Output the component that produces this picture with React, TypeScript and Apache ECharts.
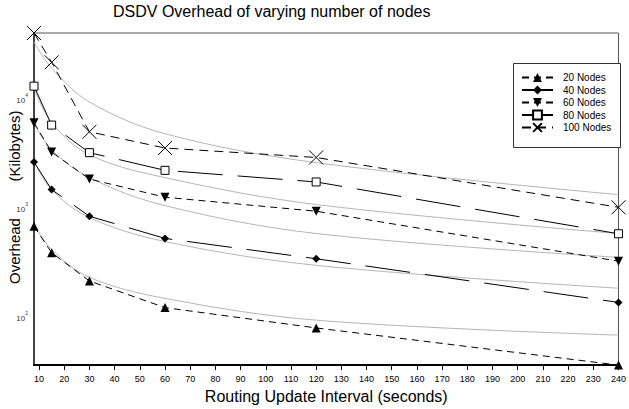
import React, { useEffect, useRef } from "react";
import * as echarts from "echarts";

const xValues = [8, 15, 30, 60, 120, 240];
const xTicks = [10, 20, 30, 40, 50, 60, 70, 80, 90, 100, 110, 120, 130, 140, 150, 160, 170, 180, 190, 200, 210, 220, 230, 240];

const nodes20 = [673, 384, 211, 120, 78, 35.5];
const nodes40 = [2620, 1463, 832, 520, 338, 134];
const nodes60 = [6030, 3240, 1830, 1245, 925, 321];
const nodes80 = [13100, 5740, 3200, 2200, 1720, 574];
const nodes100 = [40400, 21700, 4980, 3530, 2890, 1005];

// gray trend curves
const fit20 = [698, 412, 228, 146, 92, 67];
const fit40 = [2640, 1463, 809, 487, 294, 181];
const fit60 = [5900, 3400, 1885, 1042, 577, 348];
const fit80 = [12600, 6030, 3060, 1885, 1067, 577];
const fit100 = [33300, 19200, 9380, 4780, 2590, 1315];

const seriesNames = ["20 Nodes", "40 Nodes", "60 Nodes", "80 Nodes", "100 Nodes"];

const FONT = "Liberation Sans, Arial, sans-serif";

const pts = (ys: number[]) => xValues.map((x, i) => [x, ys[i]]);

export default function App() {
  const ref = useRef<HTMLDivElement>(null);
  useEffect(() => {
    if (!ref.current) return;
    const chart = echarts.init(ref.current, null, { renderer: "svg" });

    const fitSeries = [fit20, fit40, fit60, fit80, fit100].map((f, i) => ({
      name: "fit" + i,
      type: "line",
      data: pts(f),
      smooth: 0.35,
      symbol: "none",
      silent: true,
      clip: false,
      z: 1,
      lineStyle: { color: "#b5b5b5", width: 1 },
    }));

    const shortDash = [7, 5];
    const longDash = [45, 15];

    const option: any = {
      animation: false,
      textStyle: { fontFamily: FONT },
      title: {
        text: "DSDV Overhead of varying number of nodes",
        left: 113,
        top: 3,
        padding: 0,
        textStyle: { fontSize: 16, fontWeight: "normal", color: "#000", fontFamily: FONT },
      },
      legend: {
        data: seriesNames,
        orient: "vertical",
        left: 513,
        top: 63,
        z: 10,
        padding: [9, 0, 0, 8],
        itemGap: 1.5,
        itemWidth: 31,
        itemHeight: 11,
        textStyle: { fontSize: 10, color: "#000", lineHeight: 11, fontFamily: FONT, padding: [0, 0, 0, 5] },
      },
      grid: {
        left: 34,
        right: 6,
        top: 33,
        bottom: 43,
        show: true,
        borderColor: "#555",
        borderWidth: 1,
      },
      xAxis: {
        type: "value",
        min: 8,
        max: 240,
        name: "Routing Update Interval (seconds)",
        nameLocation: "middle",
        nameGap: 20,
        nameTextStyle: { fontSize: 16, color: "#000", fontFamily: FONT },
        axisLine: { show: true, lineStyle: { color: "#000", width: 2 } },
        axisTick: { show: true, customValues: xTicks, length: 5, lineStyle: { color: "#000", width: 1 } },
        axisLabel: { customValues: xTicks, fontSize: 9, color: "#000", margin: 9, fontFamily: FONT },
        splitLine: { show: false },
      },
      yAxis: {
        type: "log",
        logBase: 10,
        min: 35.5,
        max: 40400,
        axisLine: { show: true, lineStyle: { color: "#444", width: 2 } },
        axisTick: { show: false },
        splitLine: { show: false },
        minorTick: { show: false },
        axisLabel: {
          margin: 6,
          color: "#333",
          formatter: (v: number) => {
            const l = Math.log10(v);
            const e = Math.round(l);
            if (Math.abs(l - e) > 1e-6) return "";
            return "{b|10}{s|" + e + "}";
          },
          rich: {
            b: { fontSize: 8, color: "#333", fontFamily: FONT, verticalAlign: "bottom", lineHeight: 12 },
            s: { fontSize: 5, color: "#333", fontFamily: FONT, verticalAlign: "top", lineHeight: 12 },
          },
        },
      },
      graphic: [
        {
          type: "rect",
          z: 5,
          shape: { x: 513.5, y: 63.5, width: 107, height: 84 },
          style: { fill: "#fff", stroke: "#333", lineWidth: 1 },
        },
        {
          type: "text",
          x: 14,
          y: 251,
          rotation: Math.PI / 2,
          style: { text: "Overhead", fontSize: 15, fill: "#000", fontFamily: FONT, align: "center", verticalAlign: "middle" },
        },
        {
          type: "text",
          x: 14,
          y: 146,
          rotation: Math.PI / 2,
          style: { text: "(Kilobytes)", fontSize: 15, fill: "#000", fontFamily: FONT, align: "center", verticalAlign: "middle" },
        },
      ],
      series: [
        ...fitSeries,
        {
          name: "20 Nodes",
          type: "line",
          data: pts(nodes20),
          symbol: "triangle",
          symbolSize: 9,
          clip: false,
          z: 3,
          lineStyle: { color: "#000", width: 1, type: shortDash },
          itemStyle: { color: "#000" },
        },
        {
          name: "40 Nodes",
          type: "line",
          data: pts(nodes40),
          symbol: "diamond",
          symbolSize: 8,
          clip: false,
          z: 3,
          lineStyle: { color: "#000", width: 1, type: longDash },
          itemStyle: { color: "#000" },
        },
        {
          name: "60 Nodes",
          type: "line",
          data: pts(nodes60),
          symbol: "triangle",
          symbolRotate: 180,
          symbolSize: 9,
          clip: false,
          z: 3,
          lineStyle: { color: "#000", width: 1, type: shortDash },
          itemStyle: { color: "#000" },
        },
        {
          name: "80 Nodes",
          type: "line",
          data: pts(nodes80),
          symbol: "rect",
          symbolSize: 8,
          clip: false,
          z: 3,
          lineStyle: { color: "#000", width: 1, type: longDash },
          itemStyle: { color: "#fff", borderColor: "#000", borderWidth: 1 },
        },
        {
          name: "100 Nodes",
          type: "line",
          data: pts(nodes100),
          symbol: "path://M0,0L10,10M10,0L0,10",
          symbolSize: 14,
          clip: false,
          z: 3,
          lineStyle: { color: "#000", width: 1, type: [9, 6] },
          itemStyle: { color: "#000", borderColor: "#000", borderWidth: 1 },
        },
      ],
    };
    chart.setOption(option);
    return () => chart.dispose();
  }, []);
  return <div ref={ref} style={{ width: 629, height: 409, position: "absolute", left: 0, top: 0, background: "#fff" }} />;
}
